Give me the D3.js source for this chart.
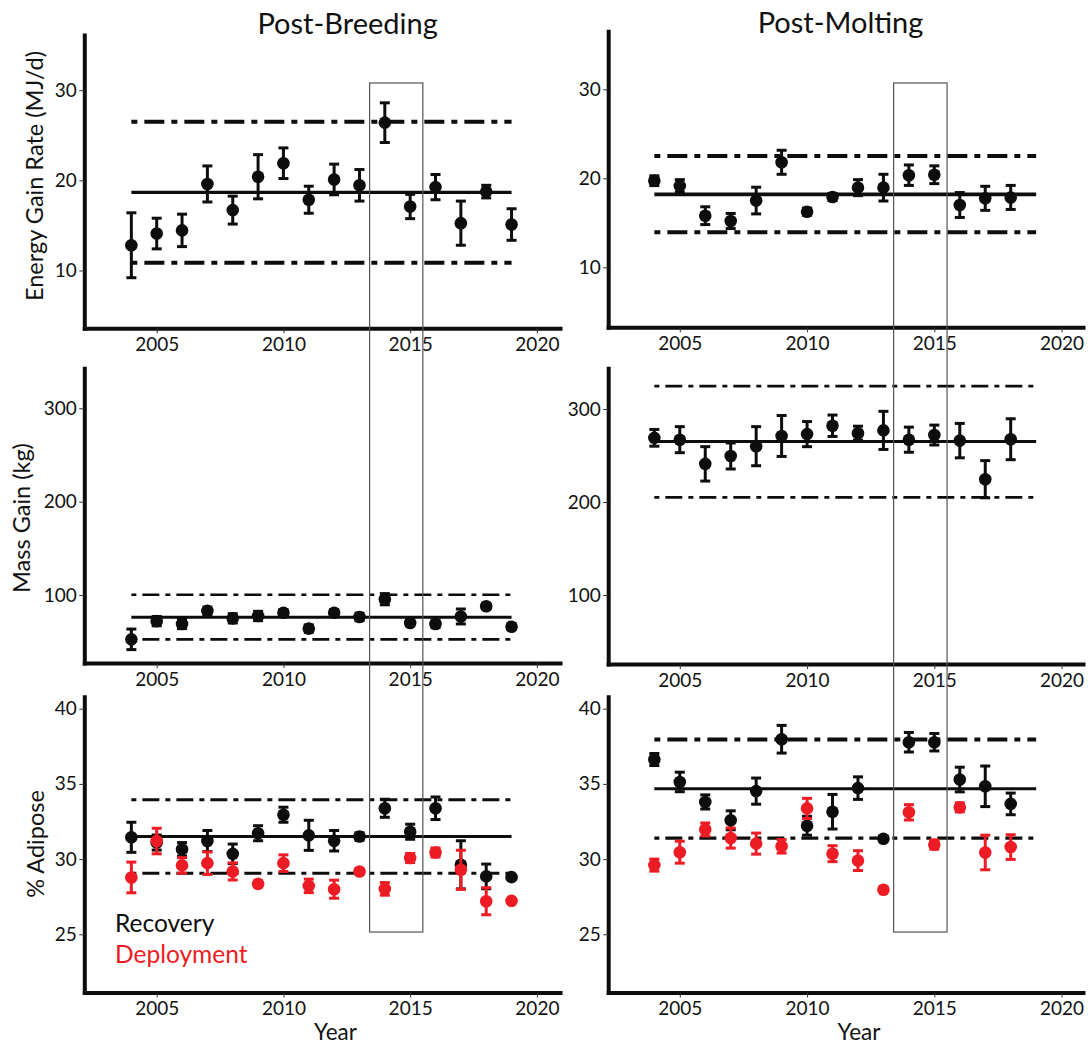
<!DOCTYPE html>
<html><head><meta charset="utf-8">
<script src="https://cdn.jsdelivr.net/npm/d3@7"></script>
<style>
body{margin:0;background:#fff}
svg{display:block}
text{font-family:Lato,"Open Sans",sans-serif;fill:#111}
</style>
</head><body>
<svg id="c" width="1091" height="1046"></svg>
<script>
// ---------------- DATA ----------------
const yearsPB = [2004,2005,2006,2007,2008,2009,2010,2011,2012,2013,2014,2015,2016,2017,2018,2019];
const yearsPM = [2004,2005,2006,2007,2008,2009,2010,2011,2012,2013,2014,2015,2016,2017,2018];

// Energy gain rate (MJ/d)
const pbEnergy    = [12.8,14.1,14.45,19.6,16.7,20.4,21.9,17.85,20.1,19.45,26.4,17.1,19.25,15.25,18.75,15.1];
const pbEnergyErr = [3.6,1.7,1.8,2.0,1.55,2.45,1.7,1.5,1.7,1.75,2.2,1.35,1.4,2.45,0.7,1.75];
const pmEnergy    = [19.73,19.15,15.8,15.2,17.5,21.8,16.25,17.9,18.95,18.95,20.35,20.4,17.0,17.75,17.85];
const pmEnergyErr = [0.55,0.7,1.0,0.85,1.5,1.35,0.4,0.4,0.9,1.5,1.15,1.0,1.4,1.35,1.35];

// Mass gain (kg)
const pbMass    = [52.5,72,69,83,75,77.5,81,64,81,76.5,95.5,70,69,77,88,66];
const pbMassErr = [11,5,5,4,5,5,3,4,3,4,6,3,4,8,3,3];
const pmMass    = [269,267,241,249.5,260,271,273,282,274,277,267,272,266,224.5,267.5];
const pmMassErr = [9,14,18.5,14,21,22,13.5,11.5,7.5,20.5,13.5,10.7,18.5,20,22];

// % Adipose
const pbAdiposeRec    = [31.45,31.1,30.65,31.2,30.35,31.72,32.95,31.58,31.22,31.5,33.38,31.82,33.38,29.62,28.85,28.8];
const pbAdiposeRecErr = [1.0,0.5,0.45,0.7,0.65,0.5,0.5,1.0,0.68,0.25,0.6,0.5,0.75,1.6,0.82,0];
const pbAdiposeDep    = [28.78,31.2,29.58,29.73,29.18,28.35,29.73,28.22,28.0,29.18,28.02,30.07,30.44,29.29,27.2,27.22];
const pbAdiposeDepErr = [1.02,0.85,0.52,0.75,0.57,0.2,0.55,0.45,0.6,0.15,0.42,0.3,0.3,1.3,0.9,0];
const pmAdiposeRec    = [36.62,35.13,33.8,32.58,34.52,37.97,32.22,33.15,34.72,31.35,37.77,37.77,35.29,34.84,33.67];
const pmAdiposeRecErr = [0.4,0.65,0.47,0.63,0.87,0.92,0.63,1.15,0.75,0.15,0.65,0.58,0.82,1.35,0.72];
const pmAdiposeDep    = [29.6,30.46,31.97,31.4,31.03,30.85,33.37,30.36,29.9,27.96,33.11,30.96,33.44,30.44,30.8];
const pmAdiposeDepErr = [0.4,0.73,0.43,0.67,0.7,0.45,0.67,0.53,0.66,0,0.51,0.3,0.3,1.15,0.82];

// Reference lines: [mean, upper, lower]
const pbEnergyRef  = [18.67,26.5,10.85];
const pmEnergyRef  = [18.2,22.5,13.95];
const pbMassRef    = [76.1,100.3,52.5];
const pmMassRef    = [265,324.7,205];
const pbAdiposeRef = [31.5,33.95,29.06];
const pmAdiposeRef = [34.67,37.95,31.4];
const refSpan = [2004,2019];

// Highlight box (years, top energy value, bottom adipose value)
const boxYears = [2013.4,2015.5];
const boxTopEnergy = 30.8;
const boxBottomAdipose = 25.15;

// Ticks & labels
const yearTicks    = [2005,2010,2015,2020];
const energyTicks  = [10,20,30];
const massTicks    = [100,200,300];
const adiposeTicks = [25,30,35,40];
const colTitles = ["Post-Breeding","Post-Molting"];
const rowLabels = ["Energy Gain Rate (MJ/d)","Mass Gain (kg)","% Adipose"];
const seriesNames = ["Recovery","Deployment"];
const xLabel = "Year";

// ---------------- LAYOUT ----------------
const BLACK = "#0d0d0d", RED = "#ED1C24";
const svg = d3.select("#c");

function mapScale(v0,p0,v1,p1,pa,pb){
  const s = d3.scaleLinear().domain([v0,v1]).range([p0,p1]);
  return d3.scaleLinear().domain([s.invert(pa), s.invert(pb)]).range([pa,pb]);
}
const cols = [
  {x: mapScale(2005,156.7,2020,536.9,84.3,560), ax:84.3},
  {x: mapScale(2005,679.8,2020,1061.6,608.2,1083), ax:608.2}
];
const panels = [
  {col:0,row:0,years:yearsPB,ticks:energyTicks,ref:pbEnergyRef,refW:[3.3,4,4],
   y:mapScale(10,270.5,30,90.2,328.3,35),series:[[pbEnergy,pbEnergyErr,BLACK]]},
  {col:1,row:0,years:yearsPM,ticks:energyTicks,ref:pmEnergyRef,refW:[3.7,4,4],
   y:mapScale(10,267.3,30,89.3,327.3,31.3),series:[[pmEnergy,pmEnergyErr,BLACK]]},
  {col:0,row:1,years:yearsPB,ticks:massTicks,ref:pbMassRef,refW:[3,2.6,2.6],
   y:mapScale(100,595,300,408.3,663,368.3),series:[[pbMass,pbMassErr,BLACK]]},
  {col:1,row:1,years:yearsPM,ticks:massTicks,ref:pmMassRef,refW:[3,2.8,2.8],
   y:mapScale(100,595,300,409,664,368.3),series:[[pmMass,pmMassErr,BLACK]]},
  {col:0,row:2,years:yearsPB,ticks:adiposeTicks,ref:pbAdiposeRef,refW:[3,3,3],
   y:mapScale(25,934.3,40,708.7,992.5,696.7),series:[[pbAdiposeRec,pbAdiposeRecErr,BLACK],[pbAdiposeDep,pbAdiposeDepErr,RED]]},
  {col:1,row:2,years:yearsPM,ticks:adiposeTicks,ref:pmAdiposeRef,refW:[3,4,3.3],
   y:mapScale(25,934.3,40,708.7,992.5,696.7),series:[[pmAdiposeRec,pmAdiposeRecErr,BLACK],[pmAdiposeDep,pmAdiposeDepErr,RED]]}
];

function dashFor(w){ return w>=3.8 ? "6,7,20,7" : "5,6,17,6"; }

panels.forEach(p=>{
  const x = cols[p.col].x, y = p.y;
  const g = svg.append("g");
  const [yb, yt] = y.range();
  const [xl, xr] = x.range();

  // axes
  const ya = g.append("g").attr("transform",`translate(${xl},0)`)
    .call(d3.axisLeft(y).tickValues(p.ticks).tickSize(5).tickPadding(2.5).tickSizeOuter(0));
  const xa = g.append("g").attr("transform",`translate(0,${yb})`)
    .call(d3.axisBottom(x).tickValues(yearTicks).tickFormat(d3.format("d")).tickSize(5).tickPadding(4.5).tickSizeOuter(0));
  [ya,xa].forEach(a=>{
    a.select(".domain").attr("stroke",BLACK).attr("stroke-width",4).attr("stroke-linecap","square");
    a.selectAll(".tick line").attr("stroke","#333").attr("stroke-width",1);
    a.selectAll(".tick text").attr("font-size",19).attr("font-family","Lato, 'Open Sans', sans-serif").attr("fill","#1a1a1a");
  });

  // reference lines
  p.ref.forEach((v,i)=>{
    const w = p.refW[i];
    const ln = g.append("line")
      .attr("x1",x(refSpan[0])).attr("x2",x(refSpan[1]))
      .attr("y1",y(v)).attr("y2",y(v))
      .attr("stroke",BLACK).attr("stroke-width",w);
    if(i>0) ln.attr("stroke-dasharray",dashFor(w));
  });

  // series
  p.series.forEach(([vals,errs,color])=>{
    const sg = g.append("g");
    p.years.forEach((yr,i)=>{
      const v = vals[i], e = errs[i], cx = x(yr);
      if(e>0){
        sg.append("line").attr("x1",cx).attr("x2",cx).attr("y1",y(v-e)).attr("y2",y(v+e))
          .attr("stroke",color).attr("stroke-width",3);
        [v-e,v+e].forEach(c=>sg.append("line").attr("x1",cx-5).attr("x2",cx+5)
          .attr("y1",y(c)).attr("y2",y(c)).attr("stroke",color).attr("stroke-width",3));
      }
      sg.append("circle").attr("cx",cx).attr("cy",y(v)).attr("r",6.3).attr("fill",color);
    });
  });
});

// highlight boxes
const topY = panels[0].y(boxTopEnergy), botY = panels[4].y(boxBottomAdipose);
cols.forEach(c=>{
  svg.append("rect").attr("x",c.x(boxYears[0])).attr("y",topY)
    .attr("width",c.x(boxYears[1])-c.x(boxYears[0])).attr("height",botY-topY)
    .attr("fill","none").attr("stroke","#555").attr("stroke-width",1.2);
});

// titles
svg.append("text").attr("x",347.6).attr("y",34).attr("text-anchor","middle").attr("font-size",29).text(colTitles[0]);
svg.append("text").attr("x",840.5).attr("y",32.5).attr("text-anchor","middle").attr("font-size",29).text(colTitles[1]);

// y labels
[[43,176],[29.5,518],[44,844]].forEach(([tx,ty],i)=>{
  svg.append("text").attr("transform",`translate(${tx},${ty}) rotate(-90)`)
    .attr("text-anchor","middle").attr("font-size",23.5).text(rowLabels[i]);
});

// x labels
svg.append("text").attr("x",335.5).attr("y",1040).attr("text-anchor","middle").attr("font-size",22.5).text(xLabel);
svg.append("text").attr("x",859).attr("y",1040).attr("text-anchor","middle").attr("font-size",22.5).text(xLabel);

// legend
svg.append("text").attr("x",115).attr("y",932.3).attr("font-size",24.5).style("fill",BLACK).text(seriesNames[0]);
svg.append("text").attr("x",115).attr("y",963.3).attr("font-size",24.5).style("fill",RED).text(seriesNames[1]);
</script>
</body></html>
